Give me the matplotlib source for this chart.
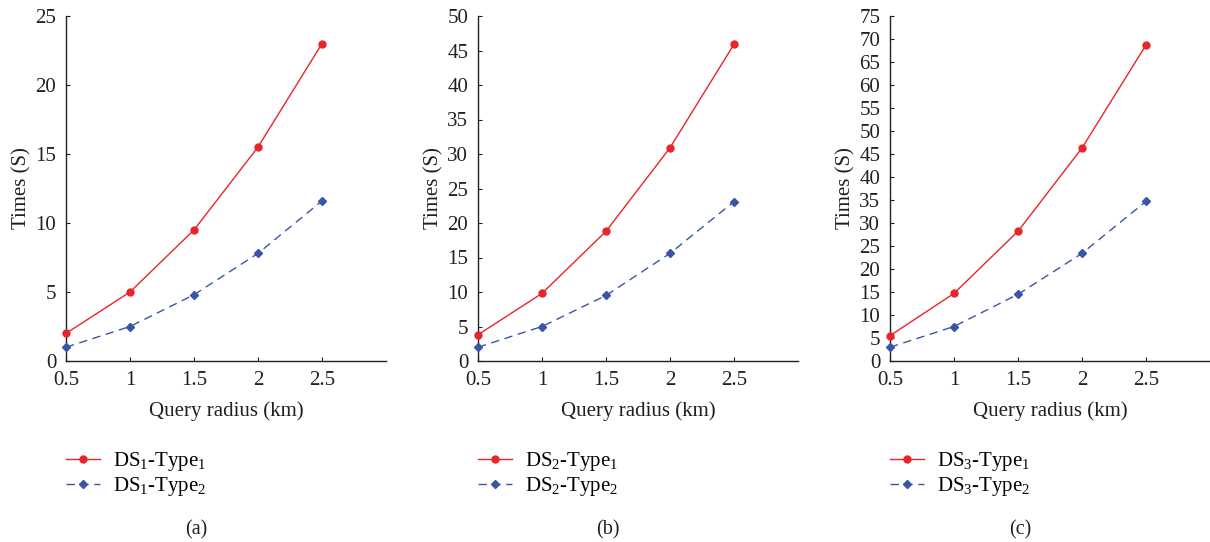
import matplotlib
matplotlib.use("Agg")
import matplotlib.pyplot as plt

plt.rcParams['font.family'] = ['Liberation Serif', 'DejaVu Serif']
plt.rcParams['mathtext.fontset'] = 'custom'
plt.rcParams['mathtext.rm'] = 'Liberation Serif'
plt.rcParams['mathtext.it'] = 'Liberation Serif:italic'

radius = [0.5, 1, 1.5, 2, 2.5]
ds1_type1 = [2, 5, 9.5, 15.5, 23]
ds1_type2 = [1, 2.5, 4.8, 7.8, 11.6]
ds2_type1 = [3.8, 9.8, 18.8, 30.9, 45.9]
ds2_type2 = [2, 5, 9.5, 15.6, 23.1]
ds3_type1 = [5.5, 14.7, 28.2, 46.3, 68.7]
ds3_type2 = [3, 7.5, 14.5, 23.4, 34.7]
y_max = [25, 50, 75]
x_ticks = [0.5, 1, 1.5, 2, 2.5]
x_tick_labels = ['0.5', '1', '1.5', '2', '2.5']
captions = ['(a)', '(b)', '(c)']

series = [(ds1_type1, ds1_type2), (ds2_type1, ds2_type2), (ds3_type1, ds3_type2)]

W, H = 1210, 542
fig = plt.figure(figsize=(W / 100, H / 100), dpi=100)

red = '#e8252b'
blue = '#3a55a5'
ink = '#231f20'
lefts = [66, 478, 890]
for i in range(3):
    l = lefts[i]
    ax = fig.add_axes([l / W, 1 - 361 / H, 320 / W, 345 / H])
    t1, t2 = series[i]
    ax.plot(radius, t1, color=red, lw=1.0, marker='o', ms=5, clip_on=False, zorder=3,
            label=f'DS$_{{\\mathregular{{{i+1}}}}}$-Type$_{{\\mathregular{{1}}}}$')
    ax.plot(radius, t2, color=blue, lw=1.0, ls=(0, (6, 4)), marker='D', ms=4.3, clip_on=False, zorder=3,
            label=f'DS$_{{\\mathregular{{{i+1}}}}}$-Type$_{{\\mathregular{{2}}}}$')
    ax.set_xlim(0.5, 3.0)
    ax.set_ylim(0, y_max[i])
    ax.set_xticks(x_ticks)
    ax.set_xticklabels(x_tick_labels)
    ax.set_yticks(range(0, y_max[i] + 1, 5))
    ax.tick_params(direction='in', length=3, width=0.8, labelsize=15, colors=ink, pad=7)
    for s in ['top', 'right']:
        ax.spines[s].set_visible(False)
    for s in ['left', 'bottom']:
        ax.spines[s].set_color(ink)
        ax.spines[s].set_linewidth(1.0)
    ax.set_xlabel('Query radius (km)', fontsize=15, color=ink, labelpad=8)
    ax.set_ylabel('Times (S)', fontsize=15, color=ink, labelpad=3)
    fig.legend(handles=ax.get_lines(), loc='upper left',
               bbox_to_anchor=(l / W, 1 - 450 / H), frameon=False,
               fontsize=15, handlelength=1.65, handletextpad=0.6, labelspacing=0.1,
               borderaxespad=0, borderpad=0)
    fig.text((l + 130) / W, 1 - 530 / H, captions[i], ha='center', va='center',
             fontsize=14.5, color=ink)

fig.savefig('out.png', dpi=100)
